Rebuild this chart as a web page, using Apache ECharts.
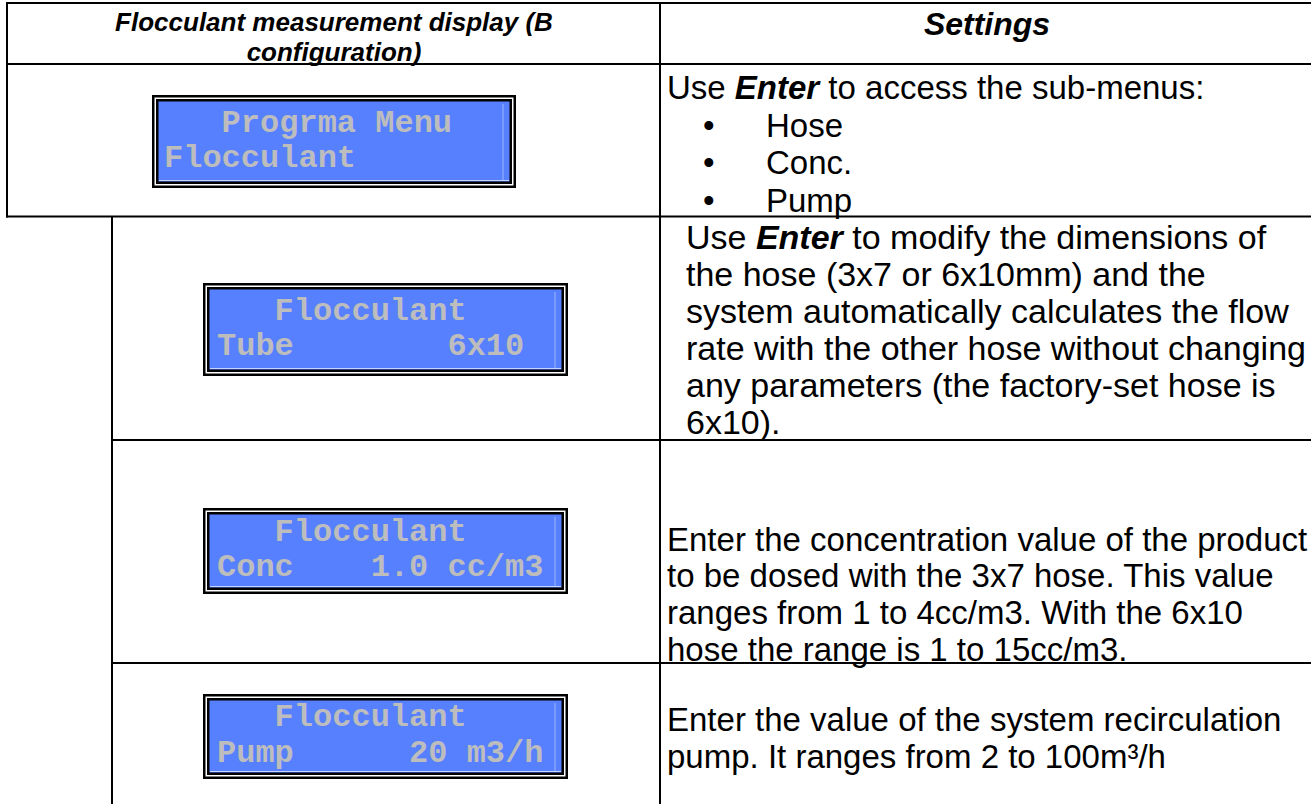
<!DOCTYPE html>
<html>
<head>
<meta charset="utf-8">
<script src="https://cdn.jsdelivr.net/npm/echarts@6/dist/echarts.min.js"></script>
<style>
html,body{margin:0;padding:0;background:#fff;}
#main{width:1311px;height:804px;}
</style>
</head>
<body>
<div id="main"></div>
<script>
// ---- content ----
const headerLeftLines = ['Flocculant measurement display (B', 'configuration)'];
const headerRight = 'Settings';
const lcdScreens = [
  ['   Progrma Menu', 'Flocculant'],
  ['   Flocculant', 'Tube        6x10'],
  ['   Flocculant', 'Conc    1.0 cc/m3'],
  ['   Flocculant', 'Pump      20 m3/h']
];
// segments: [text, emphasised]
const menuIntro = [['Use ', 0], ['Enter', 1], [' to access the sub-menus:', 0]];
const menuItems = ['Hose', 'Conc.', 'Pump'];
const hoseText = [
  [['Use ', 0], ['Enter', 1], [' to modify the dimensions of', 0]],
  [['the hose (3x7 or 6x10mm) and the', 0]],
  [['system automatically calculates the flow', 0]],
  [['rate with the other hose without changing', 0]],
  [['any parameters (the factory-set hose is', 0]],
  [['6x10).', 0]]
];
const concText = [
  'Enter the concentration value of the product',
  'to be dosed with the 3x7 hose. This value',
  'ranges from 1 to 4cc/m3. With the 6x10',
  'hose the range is 1 to 15cc/m3.'
];
const pumpText = [
  'Enter the value of the system recirculation',
  'pump. It ranges from 2 to 100m\u00b3/h'
];

// ---- layout ----
const SANS = '"Liberation Sans", Arial, sans-serif';
const MONO = '"Liberation Mono", "Courier New", monospace';
const BODY = 33;
const g = [];

function line(x1, y1, x2, y2) {
  g.push({type: 'line', shape: {x1, y1, x2, y2}, style: {stroke: '#000', lineWidth: 2}, silent: true});
}
function segText(segs) {
  return segs.map(s => s[1] ? '{e|' + s[0] + '}' : '{n|' + s[0] + '}').join('');
}
function richLine(x, y, segs, size) {
  const fs = size || BODY;
  g.push({type: 'text', x, y, style: {
    text: segText(segs), fill: '#000', verticalAlign: 'middle', align: 'left',
    font: fs + 'px ' + SANS,
    rich: {
      n: {fontFamily: SANS, fontSize: fs, fill: '#000'},
      e: {fontFamily: SANS, fontSize: fs, fontWeight: 'bold', fontStyle: 'italic', fill: '#000'}
    }
  }});
}
function plain(x, y, t, size) {
  g.push({type: 'text', x, y, style: {
    text: t, fill: '#000', verticalAlign: 'middle', align: 'left', font: (size || BODY) + 'px ' + SANS
  }});
}
function lcd(x0, y0, x1, y1, lines, tx, c1, c2) {
  const w = x1 - x0, h = y1 - y0;
  g.push({type: 'rect', shape: {x: x0, y: y0, width: w, height: h}, style: {fill: '#000'}});
  g.push({type: 'rect', shape: {x: x0 + 2.5, y: y0 + 2.5, width: w - 5, height: h - 5}, style: {fill: '#fff'}});
  g.push({type: 'rect', shape: {x: x0 + 4, y: y0 + 4, width: w - 8, height: h - 8}, style: {fill: '#000'}});
  g.push({type: 'rect', shape: {x: x0 + 6.5, y: y0 + 6.5, width: w - 13, height: h - 13}, style: {fill: '#5780ff'}});
  g.push({type: 'line', shape: {x1: x1 - 13, y1: y0 + 9, x2: x1 - 13, y2: y1 - 8}, style: {stroke: '#9db4ff', lineWidth: 1}});
  g.push({type: 'line', shape: {x1: x0 + 7, y1: y1 - 7.5, x2: x1 - 7, y2: y1 - 7.5}, style: {stroke: '#c8d5ff', lineWidth: 1}});
  [c1, c2].forEach((cy, i) => {
    g.push({type: 'text', x: tx, y: cy, style: {
      text: lines[i], fill: '#bdbdbd', align: 'left', verticalAlign: 'middle',
      font: 'bold 32px ' + MONO
    }});
  });
}

// table rules
line(6, 3, 1311, 3);
line(6, 64, 1311, 64);
line(6, 216.5, 1311, 216.5);
line(112, 440, 1311, 440);
line(112, 663, 1311, 663);
line(7, 2, 7, 217.5);
line(112, 216, 112, 804);
line(660, 2, 660, 804);

// headers
headerLeftLines.forEach((t, i) => {
  g.push({type: 'text', x: 334, y: 22 + i * 30, style: {
    text: t, fill: '#000', align: 'center', verticalAlign: 'middle', font: 'italic bold 26px ' + SANS
  }});
});
g.push({type: 'text', x: 987, y: 24, style: {
  text: headerRight, fill: '#000', align: 'center', verticalAlign: 'middle', font: 'italic bold 32px ' + SANS
}});

// LCD screens
lcd(152, 95, 516, 188, lcdScreens[0], 164, 123, 158);
lcd(203, 283, 568, 376, lcdScreens[1], 217, 311, 346);
lcd(203, 508, 568, 594, lcdScreens[2], 217, 532, 567);
lcd(203, 694, 568, 779, lcdScreens[3], 217, 717, 753);

// settings column
richLine(667, 87, menuIntro);
menuItems.forEach((t, i) => {
  const y = 125 + i * 37.5;
  plain(703, y, '\u2022');
  plain(766, y, t);
});
hoseText.forEach((segs, i) => richLine(686, 237 + i * 37, segs, 34));
concText.forEach((t, i) => plain(667, 539 + i * 36.8, t));
pumpText.forEach((t, i) => plain(667, 719 + i * 37, t));

const chart = echarts.init(document.getElementById('main'), null, {renderer: 'svg'});
chart.setOption({animation: false, graphic: {elements: g}});
</script>
</body>
</html>
